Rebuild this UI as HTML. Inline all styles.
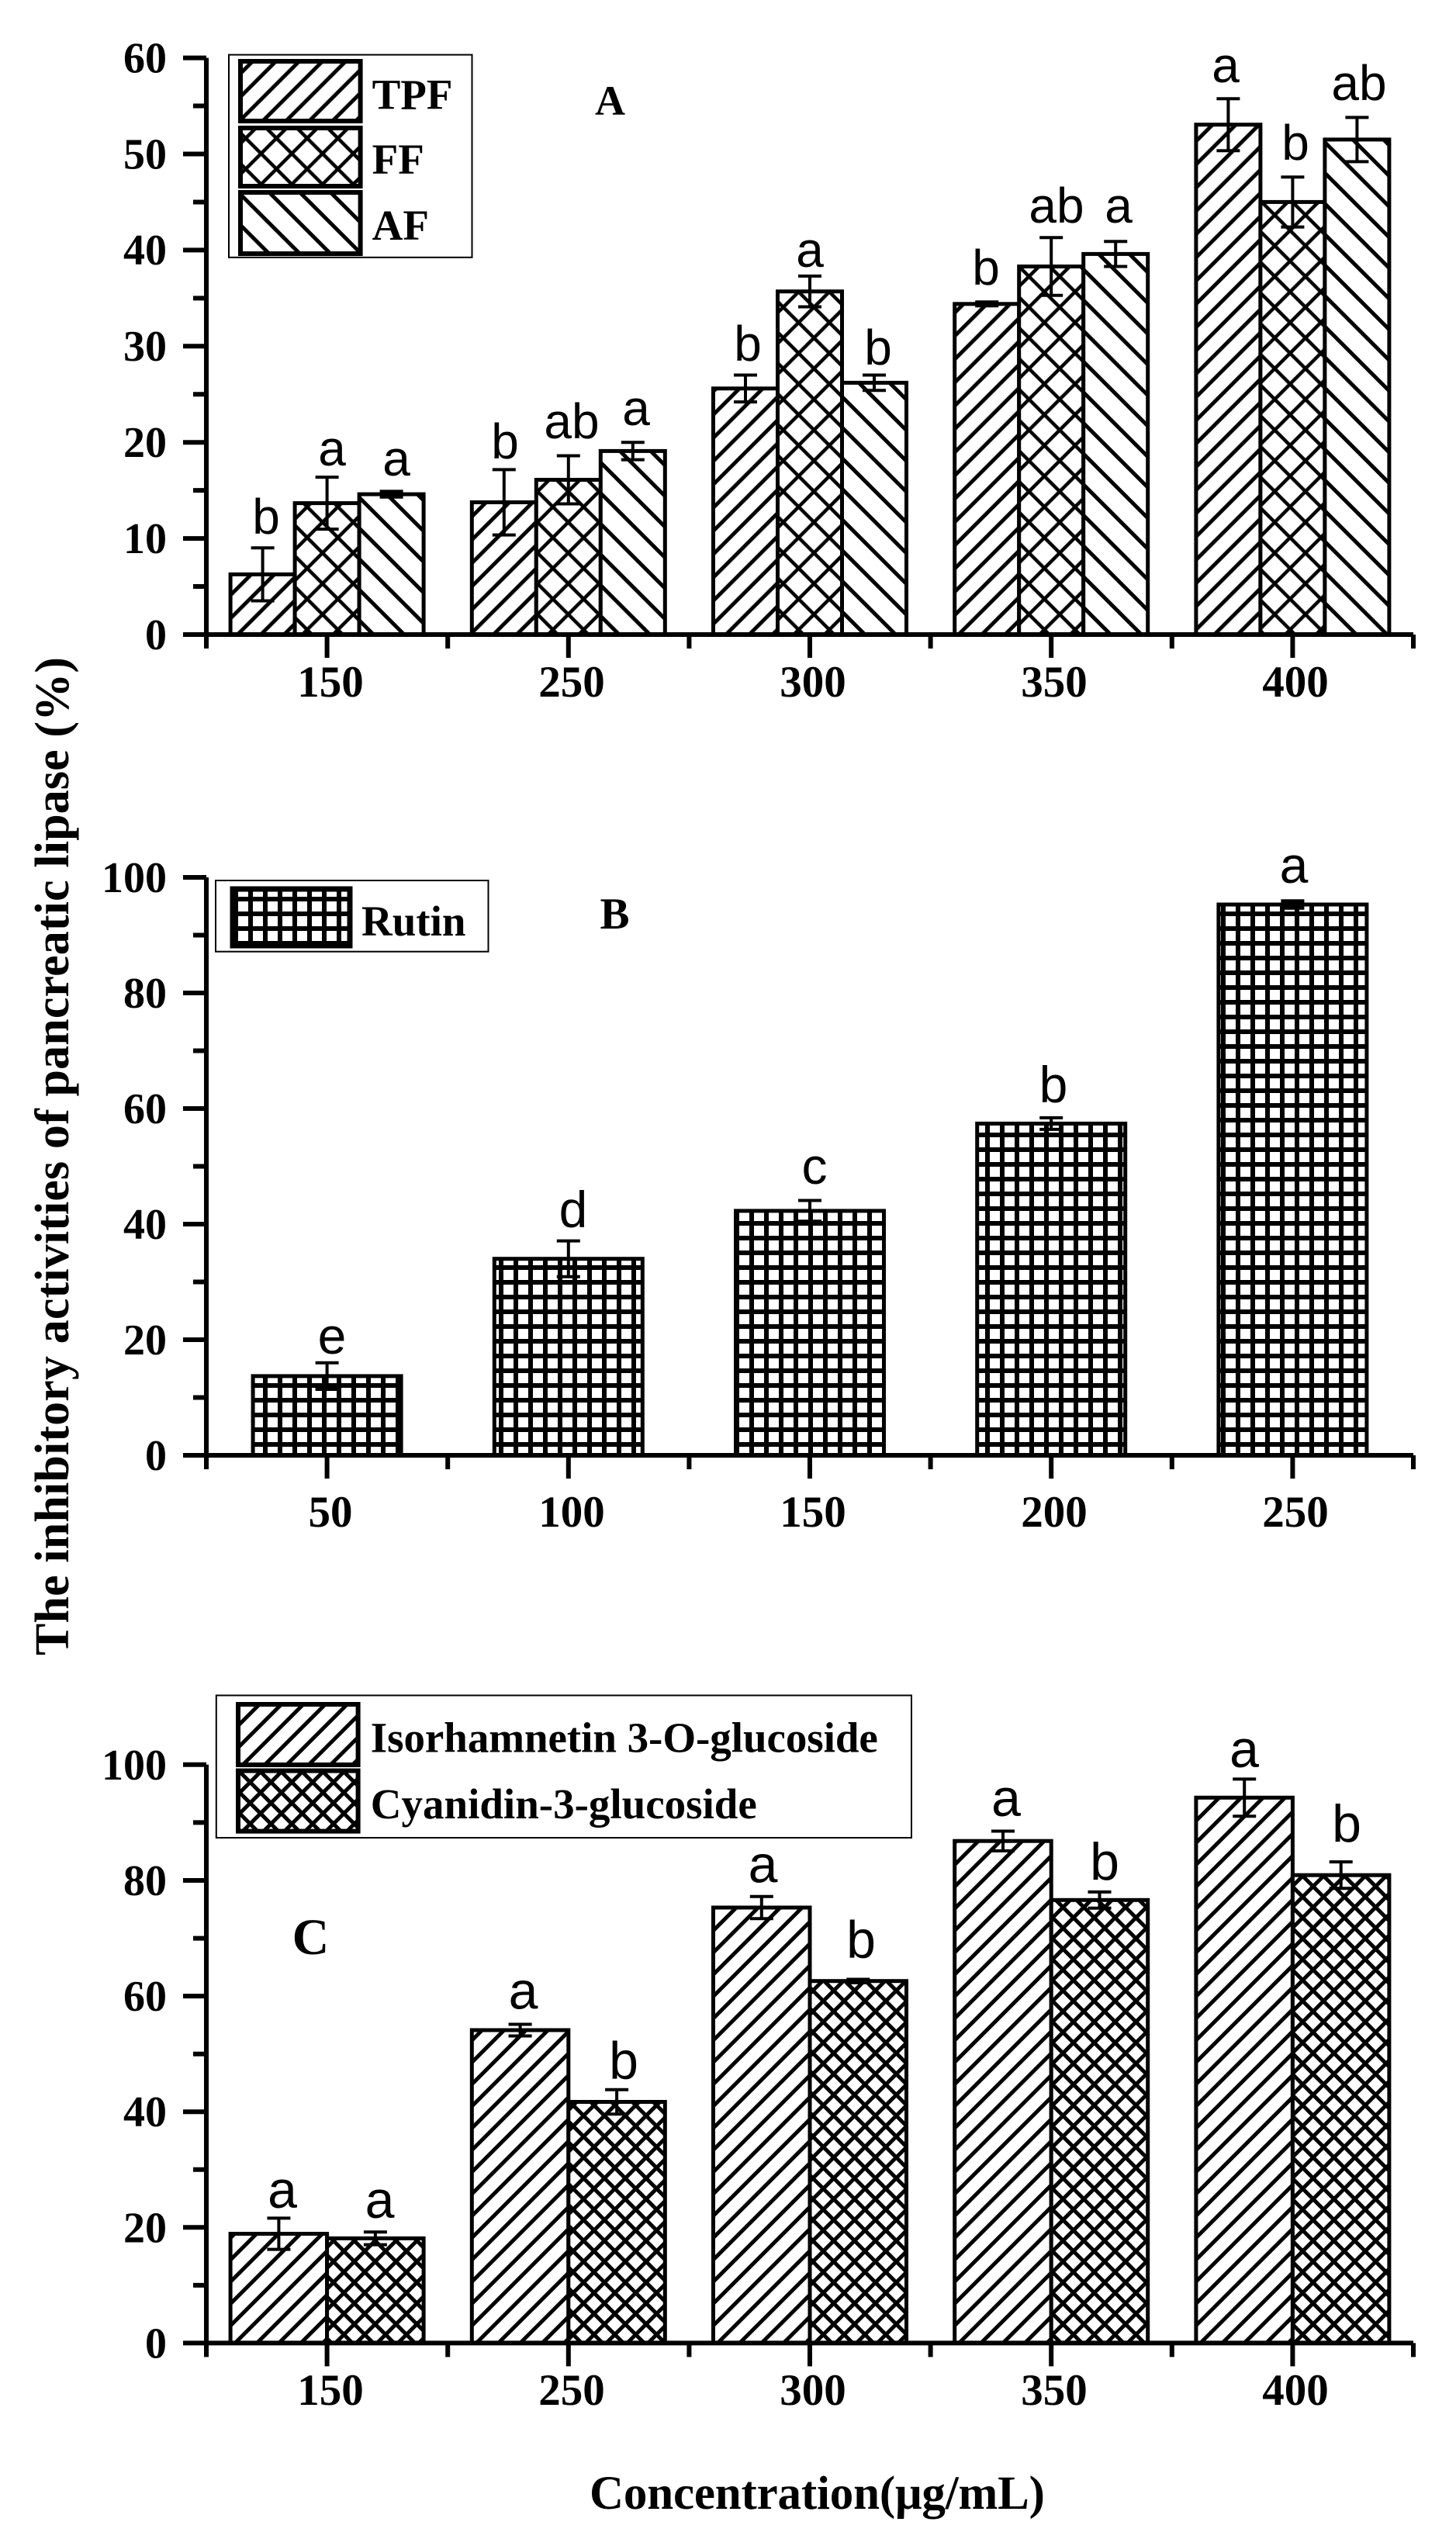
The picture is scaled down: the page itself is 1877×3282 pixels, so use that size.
<!DOCTYPE html>
<html><head><meta charset="utf-8"><style>html,body{margin:0;padding:0;background:#fff}svg{display:block}</style></head>
<body>
<svg xmlns="http://www.w3.org/2000/svg" width="1877" height="3282" viewBox="0 0 1877 3282">
<defs>
<pattern id="pTPF" patternUnits="userSpaceOnUse" width="21.2" height="21.2" patternTransform="rotate(-45)"><rect width="21.2" height="21.2" fill="#fff"/><line x1="-2" y1="10.6" x2="24" y2="10.6" stroke="#000" stroke-width="5"/></pattern>
<pattern id="pAF" patternUnits="userSpaceOnUse" width="28" height="28" patternTransform="rotate(45)"><rect width="28" height="28" fill="#fff"/><line x1="-2" y1="14" x2="30" y2="14" stroke="#000" stroke-width="5"/></pattern>
<pattern id="pFF" patternUnits="userSpaceOnUse" width="28" height="28" patternTransform="rotate(45)"><rect width="28" height="28" fill="#fff"/><line x1="-2" y1="14" x2="30" y2="14" stroke="#000" stroke-width="4.5"/><line x1="14" y1="-2" x2="14" y2="30" stroke="#000" stroke-width="4.5"/></pattern>
<pattern id="pGrid" patternUnits="userSpaceOnUse" width="19" height="19"><rect width="19" height="19" fill="#000"/><rect x="3" y="3" width="13" height="13" fill="#fff"/></pattern>
<pattern id="pIso" patternUnits="userSpaceOnUse" width="20" height="20" patternTransform="rotate(-45)"><rect width="20" height="20" fill="#fff"/><line x1="-2" y1="10" x2="22" y2="10" stroke="#000" stroke-width="5"/></pattern>
<pattern id="pCy" patternUnits="userSpaceOnUse" width="19" height="19" patternTransform="rotate(45)"><rect width="19" height="19" fill="#fff"/><line x1="-2" y1="9.5" x2="21" y2="9.5" stroke="#000" stroke-width="5"/><line x1="9.5" y1="-2" x2="9.5" y2="21" stroke="#000" stroke-width="5"/></pattern>
</defs>
<rect width="1877" height="3282" fill="#fff"/>

<!-- ================= PANEL A ================= -->
<g stroke="#000" stroke-width="5">
<rect x="297.1" y="740.4" width="83" height="77.6" fill="url(#pTPF)"/>
<rect x="380.1" y="648.6" width="83" height="169.4" fill="url(#pFF)"/>
<rect x="463.1" y="637.1" width="83" height="180.9" fill="url(#pAF)"/>
<rect x="608.3" y="647.5" width="83" height="170.5" fill="url(#pTPF)"/>
<rect x="691.3" y="618.5" width="83" height="199.5" fill="url(#pFF)"/>
<rect x="774.3" y="581.4" width="83" height="236.6" fill="url(#pAF)"/>
<rect x="919.5" y="500.8" width="83" height="317.2" fill="url(#pTPF)"/>
<rect x="1002.5" y="375.7" width="83" height="442.3" fill="url(#pFF)"/>
<rect x="1085.5" y="493.4" width="83" height="324.6" fill="url(#pAF)"/>
<rect x="1230.7" y="391.8" width="83" height="426.2" fill="url(#pTPF)"/>
<rect x="1313.7" y="343.5" width="83" height="474.5" fill="url(#pFF)"/>
<rect x="1396.7" y="327.4" width="83" height="490.6" fill="url(#pAF)"/>
<rect x="1541.9" y="160.7" width="83" height="657.3" fill="url(#pTPF)"/>
<rect x="1624.9" y="260.4" width="83" height="557.6" fill="url(#pFF)"/>
<rect x="1707.9" y="179.9" width="83" height="638.1" fill="url(#pAF)"/>
</g>
<g stroke="#000" stroke-width="4" fill="none">
<path d="M338.6 706.3V774.5M323.6 706.3H353.6M323.6 774.5H353.6"/>
<path d="M421.6 615.1V682.1M406.6 615.1H436.6M406.6 682.1H436.6"/>
<path d="M504.6 633.4V640.8M489.6 633.4H519.6M489.6 640.8H519.6"/>
<path d="M649.8 605.4V689.6M634.8 605.4H664.8M634.8 689.6H664.8"/>
<path d="M732.8 587.5V649.5M717.8 587.5H747.8M717.8 649.5H747.8"/>
<path d="M815.8 570.2V592.6M800.8 570.2H830.8M800.8 592.6H830.8"/>
<path d="M961 483.5V518.1M946 483.5H976M946 518.1H976"/>
<path d="M1044 355.9V395.5M1029 355.9H1059M1029 395.5H1059"/>
<path d="M1127 483.5V503.3M1112 483.5H1142M1112 503.3H1142"/>
<path d="M1272.2 389.3V394.3M1257.2 389.3H1287.2M1257.2 394.3H1287.2"/>
<path d="M1355.2 306.3V380.7M1340.2 306.3H1370.2M1340.2 380.7H1370.2"/>
<path d="M1438.2 311.3V343.5M1423.2 311.3H1453.2M1423.2 343.5H1453.2"/>
<path d="M1583.4 127.2V194.2M1568.4 127.2H1598.4M1568.4 194.2H1598.4"/>
<path d="M1666.4 228.2V292.6M1651.4 228.2H1681.4M1651.4 292.6H1681.4"/>
<path d="M1749.4 151.4V208.4M1734.4 151.4H1764.4M1734.4 208.4H1764.4"/>
</g>
<g font-family="'Liberation Sans', Arial, sans-serif" font-size="64" text-anchor="middle" fill="#000">
<text x="343" y="688">b</text><text x="428" y="600">a</text><text x="511" y="613">a</text>
<text x="651" y="591">b</text><text x="737" y="565">ab</text><text x="820" y="548">a</text>
<text x="964" y="465">b</text><text x="1044" y="344">a</text><text x="1132" y="470">b</text>
<text x="1271" y="367">b</text><text x="1362" y="287">ab</text><text x="1442" y="287">a</text>
<text x="1580" y="106">a</text><text x="1670" y="206">b</text><text x="1752" y="129">ab</text>
</g>
<!-- axes A -->
<g stroke="#000" stroke-width="6" fill="none">
<path d="M266 74.6V818"/>
<path d="M236 818H1822"/>
<path d="M236 694.1H266M236 570.2H266M236 446.3H266M236 322.4H266M236 198.5H266M236 74.6H266"/>
<path d="M249 756.05H266M249 632.15H266M249 508.25H266M249 384.35H266M249 260.45H266M249 136.55H266"/>
<path d="M421.6 818V848M732.8 818V848M1044 818V848M1355.2 818V848M1666.4 818V848"/>
<path d="M266 818V836M577.2 818V836M888.4 818V836M1199.6 818V836M1510.8 818V836M1822 818V836"/>
</g>
<g font-family="'Liberation Serif', 'Times New Roman', serif" font-weight="bold" font-size="56" fill="#000" text-anchor="end">
<text x="215" y="837">0</text><text x="215" y="713">10</text><text x="215" y="589">20</text><text x="215" y="465">30</text><text x="215" y="341">40</text><text x="215" y="217.5">50</text><text x="215" y="93.6">60</text>
</g>
<g font-family="'Liberation Serif', 'Times New Roman', serif" font-weight="bold" font-size="57" fill="#000" text-anchor="middle">
<text x="426" y="898">150</text><text x="737" y="898">250</text><text x="1048" y="898">300</text><text x="1359" y="898">350</text><text x="1670" y="898">400</text>
</g>
<!-- legend A -->
<rect x="295" y="70.6" width="313.5" height="261.2" fill="#fff" stroke="#000" stroke-width="2"/>
<g stroke="#000" stroke-width="6">
<rect x="310" y="79" width="154.6" height="77" fill="url(#pTPF)"/>
<rect x="310" y="165" width="154.6" height="75" fill="url(#pFF)"/>
<rect x="310" y="248" width="154.6" height="79" fill="url(#pAF)"/>
</g>
<g font-family="'Liberation Serif', 'Times New Roman', serif" font-weight="bold" font-size="55" fill="#000">
<text x="479.6" y="140.6">TPF</text><text x="479.6" y="224">FF</text><text x="479.6" y="309">AF</text>
<text x="786.5" y="148" font-size="54" text-anchor="middle">A</text>
</g>

<!-- ================= PANEL B ================= -->
<g stroke="#000" stroke-width="5" fill="url(#pGrid)">
<rect x="326.1" y="1773.9" width="191" height="102.1"/>
<rect x="637.3" y="1622.7" width="191" height="253.3"/>
<rect x="948.5" y="1560.9" width="191" height="315.1"/>
<rect x="1259.7" y="1448.4" width="191" height="427.6"/>
<rect x="1570.9" y="1166.0" width="191" height="710"/>
</g>
<g stroke="#000" stroke-width="4" fill="none">
<path d="M421.6 1756.8V1791M406.6 1756.8H436.6M406.6 1791H436.6"/>
<path d="M732.8 1599.6V1645.8M717.8 1599.6H747.8M717.8 1645.8H747.8"/>
<path d="M1044 1547.5V1574.3M1029 1547.5H1059M1029 1574.3H1059"/>
<path d="M1355.2 1440.9V1455.9M1340.2 1440.9H1370.2M1340.2 1455.9H1370.2"/>
<path d="M1666.4 1162.3V1169.7M1651.4 1162.3H1681.4M1651.4 1169.7H1681.4" stroke-width="6"/>
</g>
<g font-family="'Liberation Sans', Arial, sans-serif" font-size="66" text-anchor="middle" fill="#000">
<text x="428" y="1745">e</text><text x="739" y="1582">d</text><text x="1050" y="1526">c</text><text x="1358" y="1421">b</text><text x="1668" y="1138">a</text>
</g>
<g stroke="#000" stroke-width="6" fill="none">
<path d="M266 1131V1876"/>
<path d="M236 1876H1822"/>
<path d="M236 1727H266M236 1578H266M236 1429H266M236 1280H266M236 1131H266"/>
<path d="M249 1801.5H266M249 1652.5H266M249 1503.5H266M249 1354.5H266M249 1205.5H266"/>
<path d="M421.6 1876V1906M732.8 1876V1906M1044 1876V1906M1355.2 1876V1906M1666.4 1876V1906"/>
<path d="M266 1876V1894M577.2 1876V1894M888.4 1876V1894M1199.6 1876V1894M1510.8 1876V1894M1822 1876V1894"/>
</g>
<g font-family="'Liberation Serif', 'Times New Roman', serif" font-weight="bold" font-size="56" fill="#000" text-anchor="end">
<text x="215" y="1895">0</text><text x="215" y="1746">20</text><text x="215" y="1597">40</text><text x="215" y="1448">60</text><text x="215" y="1299">80</text><text x="215" y="1150">100</text>
</g>
<g font-family="'Liberation Serif', 'Times New Roman', serif" font-weight="bold" font-size="57" fill="#000" text-anchor="middle">
<text x="426" y="1968">50</text><text x="737" y="1968">100</text><text x="1048" y="1968">150</text><text x="1359" y="1968">200</text><text x="1670" y="1968">250</text>
</g>
<rect x="278" y="1135" width="351.5" height="91.7" fill="#fff" stroke="#000" stroke-width="2"/>
<rect x="300" y="1146" width="151" height="73" fill="url(#pGrid)" stroke="#000" stroke-width="7"/>
<g font-family="'Liberation Serif', 'Times New Roman', serif" font-weight="bold" font-size="55" fill="#000">
<text x="466" y="1206">Rutin</text>
<text x="792.5" y="1197" font-size="57" text-anchor="middle">B</text>
</g>

<!-- ================= PANEL C ================= -->
<g stroke="#000" stroke-width="5">
<rect x="297.1" y="2879.5" width="124.5" height="140.9" fill="url(#pIso)"/>
<rect x="421.6" y="2885.4" width="124.5" height="135" fill="url(#pCy)"/>
<rect x="608.3" y="2617.0" width="124.5" height="403.4" fill="url(#pIso)"/>
<rect x="732.8" y="2709.5" width="124.5" height="310.9" fill="url(#pCy)"/>
<rect x="919.5" y="2459.0" width="124.5" height="561.4" fill="url(#pIso)"/>
<rect x="1044" y="2553.7" width="124.5" height="466.7" fill="url(#pCy)"/>
<rect x="1230.7" y="2373.2" width="124.5" height="647.2" fill="url(#pIso)"/>
<rect x="1355.2" y="2449.3" width="124.5" height="571.1" fill="url(#pCy)"/>
<rect x="1541.9" y="2317.3" width="124.5" height="703.1" fill="url(#pIso)"/>
<rect x="1666.4" y="2417.2" width="124.5" height="603.2" fill="url(#pCy)"/>
</g>
<g stroke="#000" stroke-width="4" fill="none">
<path d="M359.4 2859.4V2899.6M344.4 2859.4H374.4M344.4 2899.6H374.4"/>
<path d="M483.9 2877.2V2893.6M468.9 2877.2H498.9M468.9 2893.6H498.9"/>
<path d="M670.6 2609.5V2624.5M655.6 2609.5H685.6M655.6 2624.5H685.6"/>
<path d="M795.1 2693.8V2725.2M780.1 2693.8H810.1M780.1 2725.2H810.1"/>
<path d="M981.8 2444.8V2473.2M966.8 2444.8H996.8M966.8 2473.2H996.8"/>
<path d="M1106.3 2551.5V2555.9M1091.3 2551.5H1121.3M1091.3 2555.9H1121.3"/>
<path d="M1293 2360.5V2385.9M1278 2360.5H1308M1278 2385.9H1308"/>
<path d="M1417.5 2438.9V2459.7M1402.5 2438.9H1432.5M1402.5 2459.7H1432.5"/>
<path d="M1604.2 2293.4V2341.2M1589.2 2293.4H1619.2M1589.2 2341.2H1619.2"/>
<path d="M1728.7 2400.1V2434.3M1713.7 2400.1H1743.7M1713.7 2434.3H1743.7"/>
</g>
<g font-family="'Liberation Sans', Arial, sans-serif" font-size="68" text-anchor="middle" fill="#000">
<text x="364" y="2846">a</text><text x="489.5" y="2859">a</text>
<text x="674.5" y="2589.6">a</text><text x="804" y="2679.5">b</text>
<text x="983.5" y="2426.5">a</text><text x="1110" y="2523.6">b</text>
<text x="1297" y="2340.8">a</text><text x="1424" y="2423">b</text>
<text x="1604" y="2277.8">a</text><text x="1736" y="2373.8">b</text>
</g>
<g stroke="#000" stroke-width="6" fill="none">
<path d="M266 2274.8V3020.4"/>
<path d="M236 3020.4H1822"/>
<path d="M236 2871.3H266M236 2722.2H266M236 2573.1H266M236 2424H266M236 2274.8H266"/>
<path d="M249 2945.9H266M249 2796.8H266M249 2647.7H266M249 2498.6H266M249 2349.4H266"/>
<path d="M421.6 3020.4V3050.4M732.8 3020.4V3050.4M1044 3020.4V3050.4M1355.2 3020.4V3050.4M1666.4 3020.4V3050.4"/>
<path d="M266 3020.4V3038.4M577.2 3020.4V3038.4M888.4 3020.4V3038.4M1199.6 3020.4V3038.4M1510.8 3020.4V3038.4M1822 3020.4V3038.4"/>
</g>
<g font-family="'Liberation Serif', 'Times New Roman', serif" font-weight="bold" font-size="56" fill="#000" text-anchor="end">
<text x="215" y="3039.4">0</text><text x="215" y="2890.3">20</text><text x="215" y="2741.2">40</text><text x="215" y="2592.1">60</text><text x="215" y="2443">80</text><text x="215" y="2293.8">100</text>
</g>
<g font-family="'Liberation Serif', 'Times New Roman', serif" font-weight="bold" font-size="57" fill="#000" text-anchor="middle">
<text x="426" y="3100">150</text><text x="737" y="3100">250</text><text x="1048" y="3100">300</text><text x="1359" y="3100">350</text><text x="1670" y="3100">400</text>
</g>
<rect x="278.8" y="2185.5" width="896.2" height="183.5" fill="#fff" stroke="#000" stroke-width="2"/>
<g stroke="#000" stroke-width="6">
<rect x="307" y="2197" width="154.6" height="78" fill="url(#pIso)"/>
<rect x="307" y="2282.6" width="154.6" height="78" fill="url(#pCy)"/>
</g>
<g font-family="'Liberation Serif', 'Times New Roman', serif" font-weight="bold" font-size="55" fill="#000">
<text x="477.8" y="2258.6" textLength="654" lengthAdjust="spacing">Isorhamnetin 3-O-glucoside</text>
<text x="477.8" y="2343.8" textLength="498" lengthAdjust="spacing">Cyanidin-3-glucoside</text>
<text x="400.5" y="2519" font-size="66" text-anchor="middle">C</text>
</g>

<!-- axis titles -->
<g font-family="'Liberation Serif', 'Times New Roman', serif" font-weight="bold" fill="#000">
<text transform="translate(88,1490.5) rotate(-90)" font-size="62" text-anchor="middle" textLength="1287" lengthAdjust="spacing">The inhibitory activities of pancreatic lipase (%)</text>
<text x="760" y="3234" font-size="61" textLength="587" lengthAdjust="spacing">Concentration(μg/mL)</text>
</g>
</svg>
</body></html>
